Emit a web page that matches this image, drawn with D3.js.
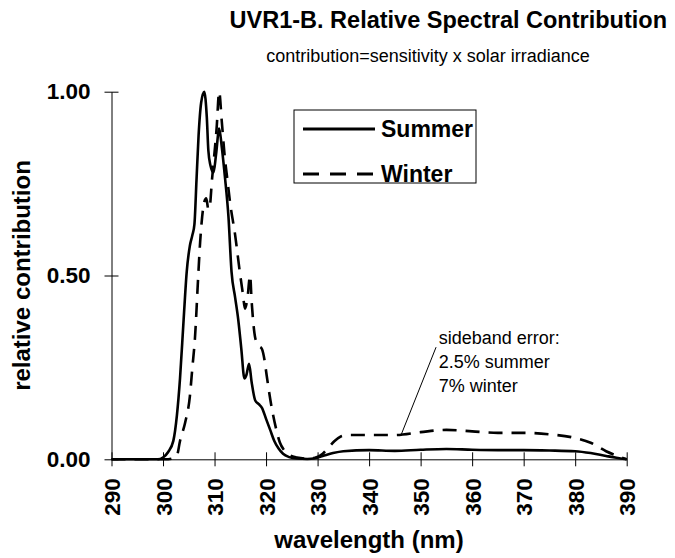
<!DOCTYPE html>
<html>
<head>
<meta charset="utf-8">
<script src="https://cdn.jsdelivr.net/npm/d3@7"></script>
<style>
  body { margin: 0; background: #fff; }
  svg { font-family: "Liberation Sans", Arial, sans-serif; }
</style>
</head>
<body>
<svg id="chart" width="675" height="558"></svg>
<script>
// wavelength (nm) / relative contribution
const summerWl = [290, 295, 299, 300, 301, 302, 302.7, 303.3, 304, 304.6, 305.2, 305.7, 306.1, 306.5, 306.9, 307.4, 308, 308.5, 308.8, 309.2, 309.8, 310.3, 310.9, 311.4, 312, 312.7, 313.3, 314, 314.6, 315.2, 315.8, 316.2, 316.7, 317.2, 317.9, 318.6, 319.2, 320, 320.8, 321.6, 322.4, 323.3, 324.5, 326, 328, 329.5, 331, 333, 335, 340, 345, 350, 355, 360, 365, 370, 375, 380, 383, 386, 388, 390]
const summerVal = [0, 0, 0, 0.005, 0.02, 0.05, 0.12, 0.22, 0.38, 0.51, 0.58, 0.61, 0.64, 0.76, 0.88, 0.97, 1.0, 0.93, 0.84, 0.80, 0.78, 0.83, 0.90, 0.85, 0.77, 0.66, 0.51, 0.44, 0.38, 0.30, 0.22, 0.23, 0.26, 0.21, 0.16, 0.15, 0.14, 0.11, 0.08, 0.05, 0.03, 0.015, 0.006, 0.002, 0.001, 0.003, 0.009, 0.017, 0.022, 0.025, 0.023, 0.026, 0.028, 0.026, 0.025, 0.025, 0.024, 0.022, 0.017, 0.009, 0.004, 0]

const winterWl = [290, 299, 301, 302, 302.7, 303.3, 304.3, 305.2, 305.7, 306.2, 306.8, 307.2, 307.6, 308, 308.4, 308.8, 309.1, 309.5, 309.9, 310.4, 310.9, 311.4, 312, 312.5, 313, 314, 314.9, 315.5, 315.9, 316.4, 316.9, 317.2, 317.9, 318.5, 319.2, 319.7, 320.1, 321.1, 322, 322.7, 323.5, 324.5, 326, 328, 329.5, 331, 332, 333.3, 334.5, 336, 340, 345, 350, 355, 360, 365, 370, 375, 380, 383, 386, 388, 390]
const winterVal = [0, 0, 0, 0.003, 0.01, 0.05, 0.10, 0.17, 0.25, 0.33, 0.49, 0.59, 0.66, 0.70, 0.71, 0.68, 0.69, 0.76, 0.82, 0.90, 1.0, 0.92, 0.82, 0.76, 0.70, 0.61, 0.51, 0.45, 0.41, 0.44, 0.50, 0.43, 0.33, 0.31, 0.30, 0.27, 0.23, 0.14, 0.08, 0.045, 0.025, 0.012, 0.005, 0.002, 0.004, 0.015, 0.03, 0.05, 0.062, 0.066, 0.066, 0.066, 0.074, 0.08, 0.076, 0.072, 0.072, 0.068, 0.058, 0.045, 0.022, 0.01, 0]

const xTicks = [290, 300, 310, 320, 330, 340, 350, 360, 370, 380, 390]
const yTicks = [0, 0.5, 1]
const noteLines = ["sideband error:", "2.5% summer", "7% winter"]

const svg = d3.select("#chart")

const x = d3.scaleLinear().domain([290, 390]).range([111.5, 626.7])
const y = d3.scaleLinear().domain([0, 1]).range([459.3, 91.7])

const toPoints = (wl, val) => wl.map((w, i) => [w, val[i]])
const series = [
    { name: "Summer", points: toPoints(summerWl, summerVal), dash: null },
    { name: "Winter", points: toPoints(winterWl, winterVal), dash: "14,9" }
]

// axes: ticks cross the axis line, like the original
const xAxis = svg.append("g")
    .attr("transform", `translate(0,${y(0)})`)
    .call(d3.axisBottom(x).tickValues(xTicks).tickSizeInner(7).tickSizeOuter(0).tickFormat(d3.format("d")))
xAxis.select(".domain").attr("stroke", "#000")
xAxis.selectAll(".tick line").attr("y1", -7).attr("stroke", "#000")
xAxis.selectAll(".tick text")
    .attr("transform", "rotate(-90)")
    .attr("text-anchor", "end")
    .attr("x", -19)
    .attr("y", 0)
    .attr("dy", "0.36em")
    .attr("font-size", 22.5)
    .attr("font-weight", "bold")
    .attr("font-family", "Liberation Sans, Arial, sans-serif")
    .attr("fill", "#000")

const yAxis = svg.append("g")
    .attr("transform", `translate(${x(290)},0)`)
    .call(d3.axisLeft(y).tickValues(yTicks).tickSizeInner(7).tickSizeOuter(0).tickFormat(d3.format(".2f")))
yAxis.select(".domain").attr("stroke", "#000")
yAxis.selectAll(".tick line").attr("x1", 7).attr("x2", -7).attr("stroke", "#000")
yAxis.selectAll(".tick text")
    .attr("x", -21)
    .attr("font-size", 22.5)
    .attr("font-weight", "bold")
    .attr("font-family", "Liberation Sans, Arial, sans-serif")
    .attr("fill", "#000")

// curves
const line = d3.line()
    .x(d => x(d[0]))
    .y(d => y(d[1]))
    .curve(d3.curveMonotoneX)

svg.append("g")
    .attr("fill", "none")
    .attr("stroke", "#000")
    .attr("stroke-width", 2.6)
    .attr("stroke-linejoin", "round")
    .selectAll("path")
    .data(series)
    .join("path")
    .attr("d", d => line(d.points))
    .attr("stroke-dasharray", d => d.dash)

// titles
svg.append("text")
    .attr("x", 667).attr("y", 28)
    .attr("text-anchor", "end")
    .attr("font-size", 23.5)
    .attr("font-weight", "bold")
    .text("UVR1-B. Relative Spectral Contribution")

svg.append("text")
    .attr("x", 428).attr("y", 62)
    .attr("text-anchor", "middle")
    .attr("font-size", 18)
    .text("contribution=sensitivity x solar irradiance")

svg.append("text")
    .attr("x", 369).attr("y", 548)
    .attr("text-anchor", "middle")
    .attr("font-size", 24)
    .attr("font-weight", "bold")
    .text("wavelength (nm)")

svg.append("text")
    .attr("transform", `translate(30,${(y(0) + y(1)) / 2}) rotate(-90)`)
    .attr("text-anchor", "middle")
    .attr("font-size", 24)
    .attr("font-weight", "bold")
    .text("relative contribution")

// legend
const legend = svg.append("g").attr("transform", "translate(294,110)")
legend.append("rect")
    .attr("width", 182).attr("height", 73)
    .attr("fill", "#fff")
    .attr("stroke", "#000")
    .attr("stroke-width", 1)
series.forEach((s, i) => {
    const ly = 19 + i * 45
    legend.append("line")
        .attr("x1", 9).attr("x2", 81)
        .attr("y1", ly).attr("y2", ly)
        .attr("stroke", "#000")
        .attr("stroke-width", 3)
        .attr("stroke-dasharray", s.dash ? "16,11" : null)
    legend.append("text")
        .attr("x", 87).attr("y", ly)
        .attr("dy", "0.36em")
        .attr("font-size", 23)
        .attr("font-weight", "bold")
        .text(s.name)
})

// sideband annotation
svg.append("line")
    .attr("x1", x(353)).attr("y1", y(0.305))
    .attr("x2", x(346.2)).attr("y2", y(0.066))
    .attr("stroke", "#000")
    .attr("stroke-width", 1)

svg.append("g")
    .selectAll("text")
    .data(noteLines)
    .join("text")
    .attr("x", x(353.5))
    .attr("y", (d, i) => y(0.313) + i * 24)
    .attr("font-size", 18)
    .text(d => d)
</script>
</body>
</html>
